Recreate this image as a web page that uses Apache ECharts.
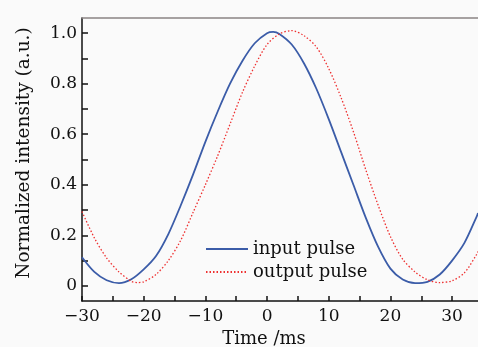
<!DOCTYPE html>
<html>
<head>
<meta charset="utf-8">
<script src="https://cdn.jsdelivr.net/npm/echarts@6/dist/echarts.min.js"></script>
<style>
html,body{margin:0;padding:0;background:#fafafa;}
#chart{width:478px;height:347px;}
</style>
</head>
<body>
<div id="chart"></div>
<script>
// Input pulse (blue, solid)
var timeInput = [-30, -28, -26, -24, -22, -20, -18, -16, -14, -12, -10, -8, -6, -4, -2, 0, 1, 2, 4, 6, 8, 10, 12, 14, 16, 18, 20, 22, 24, 26, 28, 30, 32, 34, 34.2];
var intensityInput = [0.113, 0.055, 0.022, 0.011, 0.026, 0.065, 0.118, 0.205, 0.318, 0.44, 0.57, 0.69, 0.80, 0.89, 0.96, 1.0, 1.005, 0.997, 0.955, 0.88, 0.78, 0.66, 0.53, 0.40, 0.27, 0.155, 0.068, 0.025, 0.011, 0.016, 0.045, 0.10, 0.17, 0.275, 0.288];
// Output pulse (red, dotted)
var timeOutput = [-30, -28, -26, -24, -22, -21, -20, -18, -16, -14, -12, -10, -8, -6, -4, -2, 0, 2, 4, 6, 8, 10, 12, 14, 16, 18, 20, 22, 24, 26, 28, 30, 32, 34, 34.2];
var intensityOutput = [0.294, 0.19, 0.11, 0.055, 0.018, 0.013, 0.016, 0.045, 0.10, 0.18, 0.29, 0.40, 0.515, 0.64, 0.765, 0.87, 0.955, 0.997, 1.01, 0.99, 0.945, 0.86, 0.745, 0.61, 0.46, 0.32, 0.195, 0.105, 0.055, 0.024, 0.013, 0.02, 0.052, 0.125, 0.136];
// Axis ticks / labels
var xLabelValues = [-30, -20, -10, 0, 10, 20, 30];
var xTickValues = [-30, -25, -20, -15, -10, -5, 0, 5, 10, 15, 20, 25, 30];
var yLabelValues = [0, 0.2, 0.4, 0.6, 0.8, 1.0];
var yTickValues = [0, 0.1, 0.2, 0.3, 0.4, 0.5, 0.6, 0.7, 0.8, 0.9, 1.0];
var seriesNames = ['input pulse', 'output pulse'];

function pairs(xs, ys) { return xs.map(function (x, i) { return [x, ys[i]]; }); }

var FONT = 'DejaVu Serif';
var chart = echarts.init(document.getElementById('chart'), null, {renderer: 'canvas'});
chart.setOption({
  backgroundColor: '#fafafa',
  animation: false,
  textStyle: {fontFamily: FONT, color: '#111'},
  grid: {left: 82, right: 0, top: 18, bottom: 46, containLabel: false, outerBoundsMode: 'none'},
  legend: {
    orient: 'vertical', left: 205, top: 240, padding: 0,
    itemWidth: 42, itemHeight: 14, itemGap: 5,
    data: seriesNames,
    itemStyle: {opacity: 0},
    textStyle: {fontFamily: FONT, fontSize: 18, color: '#111', lineHeight: 18}
  },
  xAxis: [{
    type: 'value', min: -30, max: 34.2,
    name: 'Time /ms', nameLocation: 'middle', nameGap: 28,
    nameTextStyle: {fontFamily: FONT, fontSize: 18, color: '#111', padding: [0, 32, 0, 0]},
    axisLine: {show: true, onZero: false, lineStyle: {color: '#111', width: 1.5}},
    axisTick: {show: true, inside: true, length: 5, customValues: xTickValues, lineStyle: {color: '#111', width: 1.5}},
    axisLabel: {
      show: true, margin: 7, fontFamily: FONT, fontSize: 17, color: '#111',
      customValues: xLabelValues,
      formatter: function (v) { return v < 0 ? '\u2212' + Math.abs(v) : String(v); }
    },
    splitLine: {show: false}
  }, {
    type: 'value', position: 'top', min: -30, max: 34.2,
    axisLine: {show: true, onZero: false, lineStyle: {color: '#8a8484', width: 1.5}},
    axisTick: {show: false}, axisLabel: {show: false}, splitLine: {show: false}
  }],
  yAxis: {
    type: 'value', min: -0.06, max: 1.06,
    name: 'Normalized intensity (a.u.)', nameLocation: 'middle', nameGap: 48,
    nameTextStyle: {fontFamily: FONT, fontSize: 18.5, color: '#111', padding: [0, 0, 0, 13]},
    axisLine: {show: true, onZero: false, lineStyle: {color: '#111', width: 1.5}},
    axisTick: {show: true, inside: true, length: 6, customValues: yTickValues, lineStyle: {color: '#111', width: 1.5}},
    axisLabel: {
      show: true, margin: 5, fontFamily: FONT, fontSize: 17, color: '#111',
      customValues: yLabelValues,
      formatter: function (v) { return v === 0 ? '0' : v.toFixed(1); }
    },
    splitLine: {show: false}
  },
  series: [{
    name: seriesNames[0], type: 'line', xAxisIndex: 0, smooth: 0.3, symbol: 'none',
    lineStyle: {color: '#3b5ca8', width: 1.8},
    itemStyle: {color: '#3b5ca8'},
    data: pairs(timeInput, intensityInput)
  }, {
    name: seriesNames[1], type: 'line', xAxisIndex: 0, smooth: 0.3, symbol: 'none',
    lineStyle: {color: '#ee3030', width: 1.3, type: [1.5, 2]},
    itemStyle: {color: '#ee3030'},
    data: pairs(timeOutput, intensityOutput)
  }]
});
</script>
</body>
</html>
